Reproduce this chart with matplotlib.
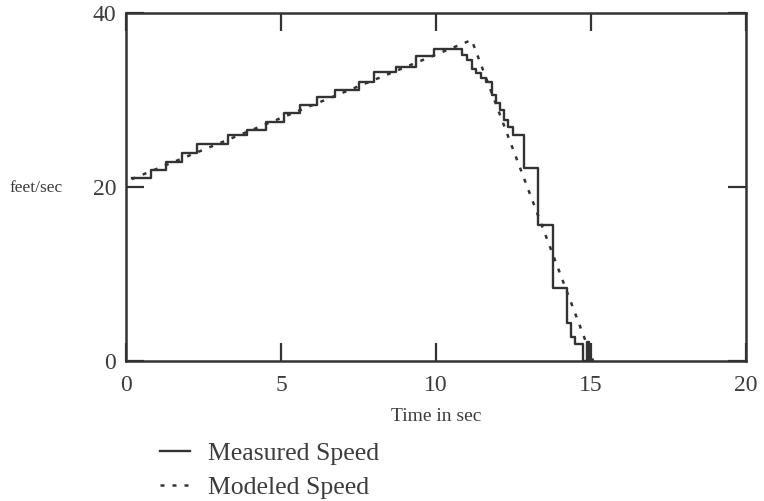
import matplotlib
matplotlib.use('Agg')
import matplotlib.pyplot as plt

# measured speed (step function, value holds until next time)
meas_t = [0.18, 0.8, 1.3, 1.8, 2.3, 3.3, 3.9, 4.5, 5.1, 5.6, 6.15, 6.75, 7.5,
          8.0, 8.7, 9.35, 9.95, 10.83, 11.0, 11.15, 11.3, 11.45, 11.6, 11.8,
          11.95, 12.05, 12.2, 12.33, 12.47, 12.85, 13.3, 13.78, 14.22, 14.35,
          14.48, 14.73, 14.86, 14.95, 15.0]
meas_v = [21.0, 21.95, 22.9, 23.9, 24.9, 26.0, 26.55, 27.5, 28.5, 29.4, 30.4,
          31.1, 32.1, 33.25, 33.8, 35.0, 35.9, 35.2, 34.6, 33.6, 33.1, 32.5,
          32.1, 30.6, 29.6, 28.8, 27.7, 26.9, 26.0, 22.2, 15.6, 8.4, 4.4, 2.8,
          2.0, 0.0, 2.2, 0.0, 0.0]

# modeled speed
model_t = [0.18, 11.15, 15.07]
model_v = [20.9, 36.9, 0.0]

x_ticks = [0, 5, 10, 15, 20]
y_ticks = [0, 20, 40]

line_col = '#333333'
text_col = '#3c3c3c'
serif = ['Liberation Serif', 'DejaVu Serif']

fig = plt.figure(figsize=(7.64, 5.01), dpi=100)
ax = fig.add_axes([126/764, 1 - 361/501, 620/764, 348/501])

ax.plot(meas_t, meas_v, drawstyle='steps-post', color=line_col, lw=1.7,
        label='Measured Speed')
ax.plot(model_t, model_v, color=line_col, lw=1.8, linestyle=(0, (1.6, 3.2)),
        label='Modeled Speed')

ax.set_xlim(0, 20)
ax.set_ylim(0, 40)
ax.set_xticks(x_ticks)
ax.set_yticks(y_ticks)
ax.tick_params(direction='in', length=13, width=1.6, color=line_col,
               top=True, right=True, labelsize=17, labelcolor=text_col)
ax.tick_params(axis='x', pad=10)
ax.tick_params(axis='y', pad=7)
for lab in ax.get_xticklabels() + ax.get_yticklabels():
    lab.set_family(serif)
for s in ax.spines.values():
    s.set_linewidth(1.8)
    s.set_color(line_col)

ax.set_xlabel('Time in sec', fontsize=14, family=serif, color=text_col, labelpad=9)
fig.text(10/764, 1 - 188/501, 'feet/sec', fontsize=12.5, family=serif,
         color=text_col, va='center', ha='left')

leg = ax.legend(loc='upper left', bbox_to_anchor=(150/764, 1 - 432/501),
                bbox_transform=fig.transFigure, frameon=False,
                prop={'family': serif, 'size': 18.5}, handlelength=1.15,
                handletextpad=0.72, labelspacing=0.42, borderaxespad=0)
for t in leg.get_texts():
    t.set_color(text_col)

fig.savefig('out.png', dpi=100)
